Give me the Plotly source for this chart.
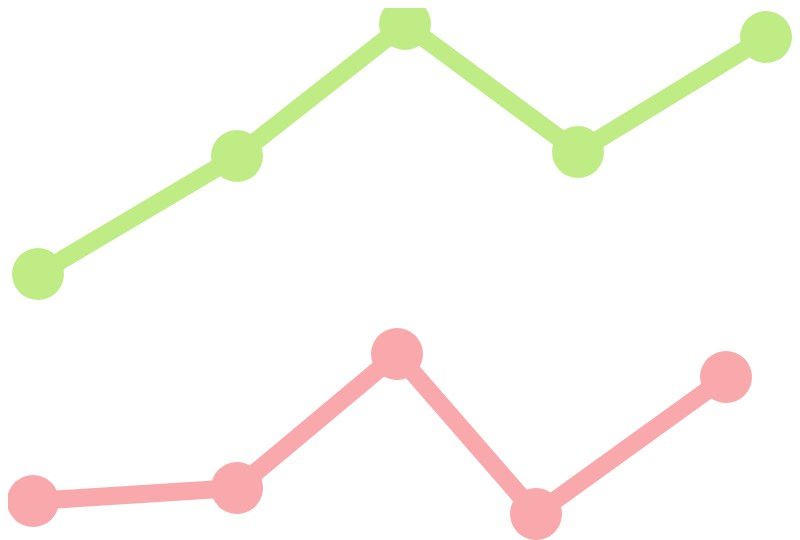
import plotly.graph_objs as go

# values (x in px across, y up from the bottom)
green_x = [38, 237, 405, 578, 766]
green_y = [266, 384, 516, 388, 503]
red_x = [33, 237, 397, 536, 726]
red_y = [39, 52, 186, 26, 163]

traces = []
traces.append(go.Scatter(x=green_x,
                         y=green_y,
                         mode='lines+markers',
                         line=dict(color='#BFEC85', width=18),
                         marker=dict(color='#BFEC85', size=52),
                         showlegend=False))
traces.append(go.Scatter(x=red_x,
                         y=red_y,
                         mode='lines+markers',
                         line=dict(color='#F9A9AB', width=18),
                         marker=dict(color='#F9A9AB', size=52),
                         showlegend=False))
fig = go.Figure(data=traces)

# page body has an 8px margin, so the ranges are shifted to compensate
fig.update_layout(
    width=800,
    height=540,
    margin=dict(l=0, r=0, t=0, b=0),
    paper_bgcolor='white',
    plot_bgcolor='white',
    xaxis=dict(range=[8, 808], visible=False),
    yaxis=dict(range=[-8, 532], visible=False),
)

fig.write_html("out.html")
